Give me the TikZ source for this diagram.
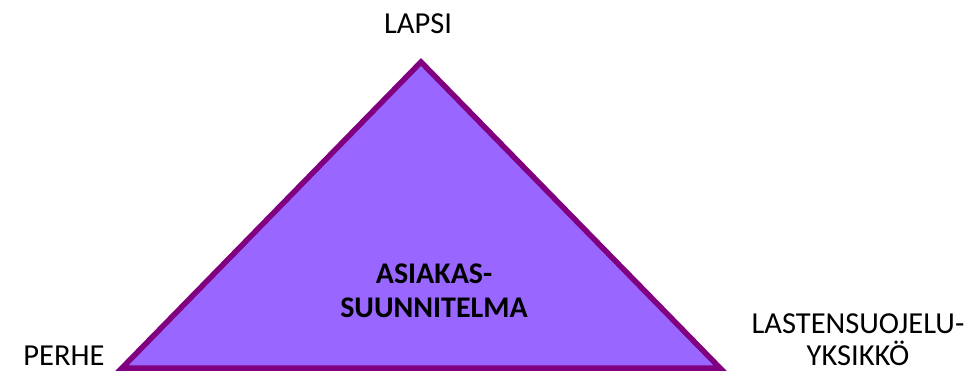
\documentclass[tikz,border=0pt]{standalone}
\usepackage{fontspec}
\setmainfont{Carlito}
\definecolor{trifill}{HTML}{9966FF}
\definecolor{tridraw}{HTML}{800080}
\begin{document}
\begin{tikzpicture}[x=1pt,y=-1pt,
  lbl/.style={font=\fontsize{30.5}{32}\selectfont, inner sep=0pt, align=center, anchor=base},
  mid/.style={font=\fontsize{30}{34}\selectfont\bfseries, inner sep=0pt, align=center, anchor=base}]
\useasboundingbox (0,0) rectangle (977,372);
\coordinate (top) at (421,62);
\coordinate (bl) at (122,368);
\coordinate (br) at (720,368);
\draw[tridraw, fill=trifill, line width=5.5pt, line join=miter] (top) -- (br) -- (bl) -- cycle;
\node[lbl] (lapsi) at (418,33) {LAPSI};
\node[lbl, text depth=0pt] (perhe) at (64,365) {PERHE};
\node[lbl] (lsy) at (858,365) {LASTENSUOJELU-\\YKSIKKÖ};
\node[mid] (as) at (434,317) {ASIAKAS-\\SUUNNITELMA};
\end{tikzpicture}
\end{document}
